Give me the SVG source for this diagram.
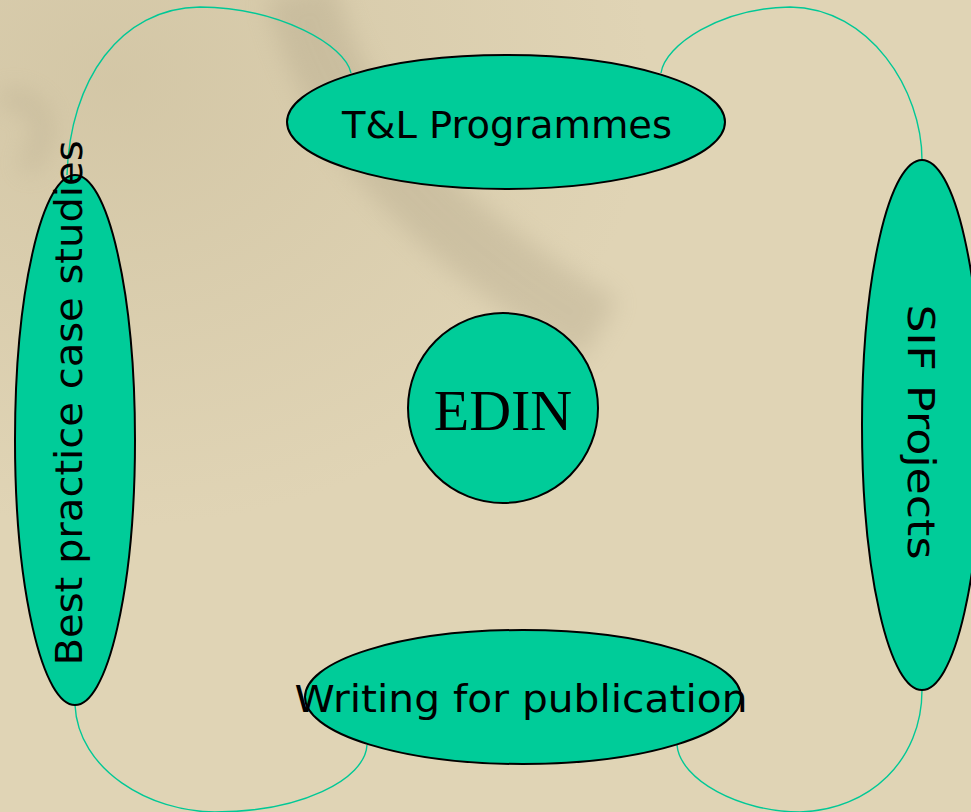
<svg xmlns="http://www.w3.org/2000/svg" width="971" height="812" viewBox="0 0 971 812">
<defs>
<radialGradient id="bgshade" cx="0.12" cy="0.1" r="0.55">
<stop offset="0" stop-color="#c9bc9a" stop-opacity="0.55"/>
<stop offset="1" stop-color="#c9bc9a" stop-opacity="0"/>
</radialGradient>
<filter id="soft" x="-20%" y="-20%" width="140%" height="140%">
<feGaussianBlur stdDeviation="12"/>
</filter>
<style>
.node{fill:#00cc99;stroke:#000;stroke-width:2}
.lbl{font-family:"DejaVu Sans","Liberation Sans",sans-serif;font-size:37px;fill:#000}
.conn{fill:none;stroke:#00c896;stroke-width:1.4}
</style>
</defs>
<rect width="971" height="812" fill="#e0d4b5"/>
<rect width="971" height="812" fill="url(#bgshade)"/>
<g opacity="0.3" fill="none" stroke="#a89c80" filter="url(#soft)">
<path d="M300 -10 C 330 120, 430 230, 600 330" stroke-width="70"/>
<path d="M0 100 C 40 90, 60 130, 25 170" stroke-width="16"/>
</g>
<g id="connectors">
<path class="conn" d="M67 175 C 70 80, 120 8, 200 7 C 280 8, 345 45, 351 73"/>
<path class="conn" d="M661 73 C 665 45, 720 8, 790 7 C 870 8, 922 90, 922 160"/>
<path class="conn" d="M75 705 C 78 770, 150 812, 215 812 C 300 812, 365 780, 367 745"/>
<path class="conn" d="M677 745 C 680 780, 740 812, 800 812 C 870 810, 922 760, 922 690"/>
</g>
<g id="node-tl">
<ellipse class="node" cx="506" cy="122" rx="219" ry="67"/>
<text class="lbl" x="507" y="138" text-anchor="middle" textLength="330" lengthAdjust="spacingAndGlyphs">T&amp;L Programmes</text>
</g>
<g id="node-best">
<ellipse class="node" cx="75" cy="440" rx="60" ry="265"/>
<text class="lbl" transform="translate(82 403) rotate(-90)" text-anchor="middle" textLength="525" lengthAdjust="spacingAndGlyphs">Best practice case studies</text>
</g>
<g id="node-sif">
<ellipse class="node" cx="922" cy="425" rx="60" ry="265"/>
<text class="lbl" transform="translate(908 432) rotate(90)" text-anchor="middle" textLength="255" lengthAdjust="spacingAndGlyphs">SIF Projects</text>
</g>
<g id="node-writing">
<ellipse class="node" cx="523" cy="697" rx="218" ry="67"/>
<text class="lbl" x="521" y="712" text-anchor="middle" textLength="453" lengthAdjust="spacingAndGlyphs">Writing for publication</text>
</g>
<g id="node-edin">
<circle class="node" cx="503" cy="408" r="95"/>
<text x="503" y="430" text-anchor="middle" font-family="'Liberation Serif',serif" font-size="58" fill="#000">EDIN</text>
</g>
</svg>
